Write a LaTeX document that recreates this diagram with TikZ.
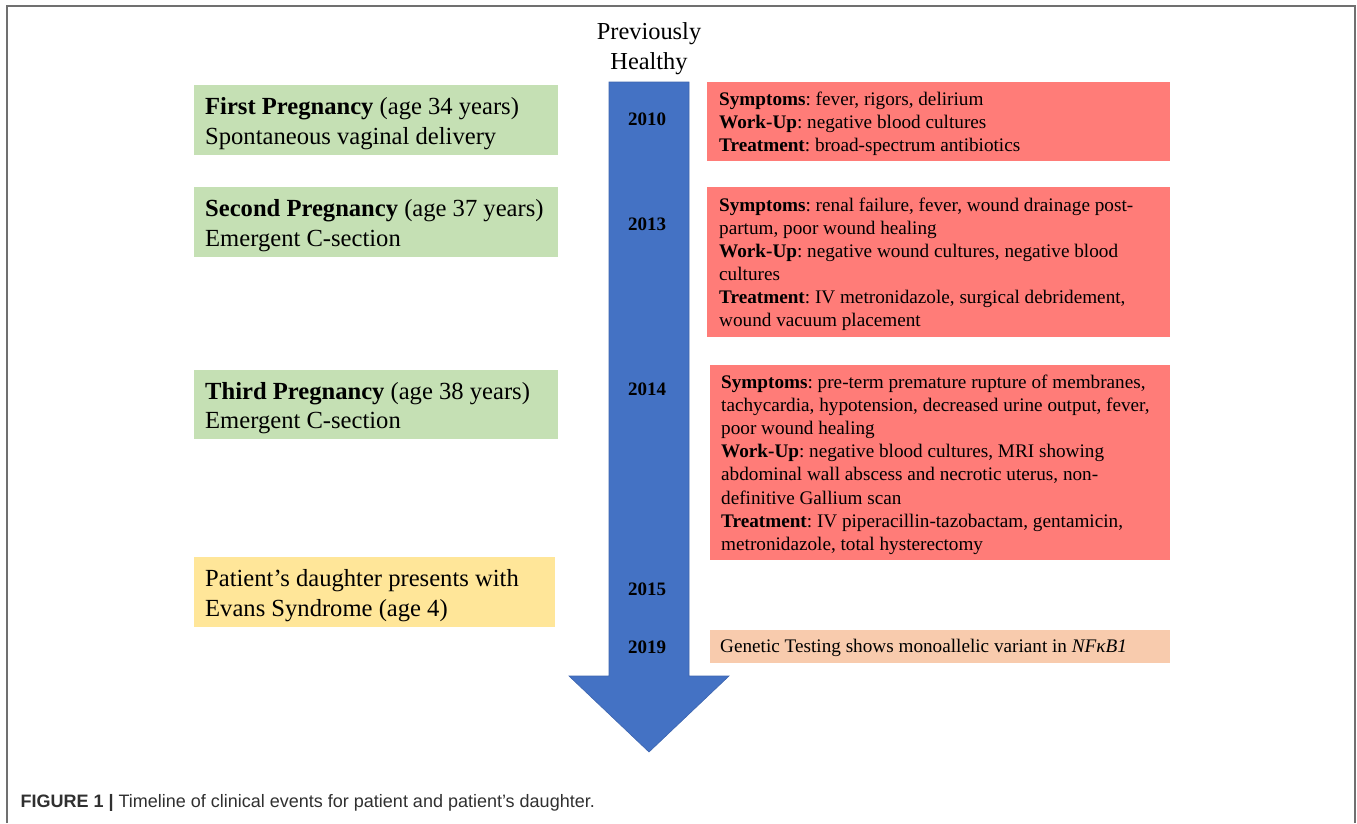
\documentclass[tikz,border=0pt]{standalone}
\usepackage{fontspec}
\setmainfont{Liberation Serif}
\newfontfamily\capfont{Liberation Sans}
\frenchspacing
\definecolor{gbox}{HTML}{C5E0B4}
\definecolor{rbox}{HTML}{FF7C78}
\definecolor{ybox}{HTML}{FFE699}
\definecolor{pbox}{HTML}{F8CBAD}
\definecolor{arrowblue}{HTML}{4472C4}
\definecolor{arrowedge}{HTML}{3C64AE}
\definecolor{framegray}{HTML}{707070}
\definecolor{capgray}{HTML}{303030}
\tikzset{
  panel/.style={anchor=north west, inner sep=0pt},
  lefttext/.style={anchor=west, inner sep=0pt, align=left,
    font=\fontsize{24.6}{29.8}\selectfont},
  redtext/.style={anchor=west, inner sep=0pt, align=left,
    font=\fontsize{19.2}{23.1}\selectfont},
  yearlbl/.style={font=\fontsize{19}{22}\selectfont\bfseries},
}
\begin{document}
\begin{tikzpicture}[x=1pt,y=-1pt]
\useasboundingbox (0,0) rectangle (1357,823);
% frame
\draw[framegray, line width=2pt] (7,823) -- (7,6) -- (1355,6) -- (1355,823);
% arrow
\draw[arrowedge, fill=arrowblue, line width=0.6pt]
  (609,82) -- (689,82) -- (689,676) -- (729,676) -- (649,752) -- (569,676) -- (609,676) -- cycle;
\node[font=\fontsize{24.4}{30}\selectfont, align=center] (prev) at (649,49) {Previously\\Healthy};
% years
\node[yearlbl] (y2010) at (647,119) {2010};
\node[yearlbl] (y2013) at (647,224) {2013};
\node[yearlbl] (y2014) at (647,389) {2014};
\node[yearlbl] (y2015) at (647,589) {2015};
\node[yearlbl] (y2019) at (647,647) {2019};
% left boxes
\node[panel, fill=gbox, minimum width=364pt, minimum height=70pt] (g1) at (194,85) {};
\node[panel, fill=gbox, minimum width=364pt, minimum height=70pt] (g2) at (194,187) {};
\node[panel, fill=gbox, minimum width=364pt, minimum height=69pt] (g3) at (194,370) {};
\node[panel, fill=ybox, minimum width=361pt, minimum height=70pt] (d1) at (194,557) {};
\node[lefttext] (g1t) at ([xshift=11pt,yshift=-3.5pt]g1.west)
  {\textbf{First Pregnancy} (age 34 years)\\Spontaneous vaginal delivery};
\node[lefttext] (g2t) at ([xshift=11pt,yshift=-3.5pt]g2.west)
  {\textbf{Second Pregnancy} (age 37 years)\\Emergent C-section};
\node[lefttext] (g3t) at ([xshift=11pt,yshift=-3.5pt]g3.west)
  {\textbf{Third Pregnancy} (age 38 years)\\Emergent C-section};
\node[lefttext] (d1t) at ([xshift=11pt,yshift=-3.5pt]d1.west)
  {Patient’s daughter presents with\\Evans Syndrome (age 4)};
% right boxes
\node[panel, fill=rbox, minimum width=463pt, minimum height=79pt] (r1) at (707,82) {};
\node[panel, fill=rbox, minimum width=463pt, minimum height=150pt] (r2) at (707,187) {};
\node[panel, fill=rbox, minimum width=460pt, minimum height=195pt] (r3) at (710,365) {};
\node[panel, fill=pbox, minimum width=460pt, minimum height=33pt] (p1) at (710,630) {};
\node[redtext] (r1t) at ([xshift=12pt,yshift=-2pt]r1.west)
  {\textbf{Symptoms}: fever, rigors, delirium\\
   \textbf{Work-Up}: negative blood cultures\\
   \textbf{Treatment}: broad-spectrum antibiotics};
\node[redtext] (r2t) at ([xshift=12pt,yshift=-2pt]r2.west)
  {\textbf{Symptoms}: renal failure, fever, wound drainage post-\\
   partum, poor wound healing\\
   \textbf{Work-Up}: negative wound cultures, negative blood\\
   cultures\\
   \textbf{Treatment}: IV metronidazole, surgical debridement,\\
   wound vacuum placement};
\node[redtext] (r3t) at ([xshift=11pt,yshift=-2pt]r3.west)
  {\textbf{Symptoms}: pre-term premature rupture of membranes,\\
   tachycardia, hypotension, decreased urine output, fever,\\
   poor wound healing\\
   \textbf{Work-Up}: negative blood cultures, MRI showing\\
   abdominal wall abscess and necrotic uterus, non-\\
   definitive Gallium scan\\
   \textbf{Treatment}: IV piperacillin-tazobactam, gentamicin,\\
   metronidazole, total hysterectomy};
\node[redtext] (p1t) at ([xshift=10pt,yshift=-1pt]p1.west)
  {Genetic Testing shows monoallelic variant in \textit{NFκB1}};
% caption
\node[anchor=west, text=capgray, font=\capfont\fontsize{18}{21}\selectfont] (cap) at (17,803)
  {\textbf{FIGURE 1 |} Timeline of clinical events for patient and patient’s daughter.};
\end{tikzpicture}
\end{document}
